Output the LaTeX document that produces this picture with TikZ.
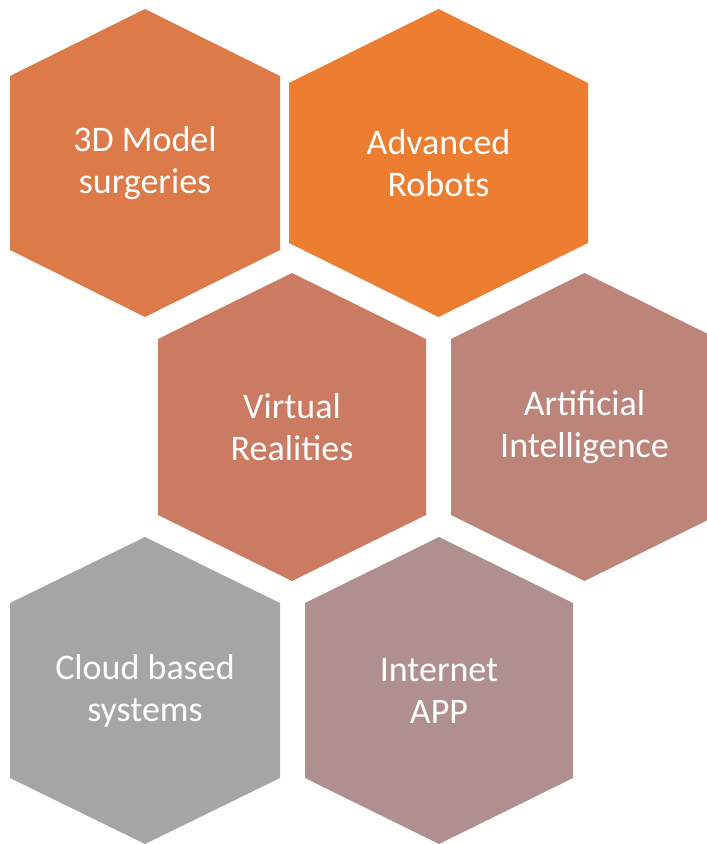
\documentclass[tikz,border=0pt]{standalone}
\usepackage{fontspec}
\setmainfont{Carlito}
\usepackage{color}
\definecolor{modelorange}{HTML}{DC7A4A}
\definecolor{robotorange}{HTML}{ED7D31}
\definecolor{virtualrose}{HTML}{CC7B63}
\definecolor{aibrown}{HTML}{BD857A}
\definecolor{cloudgray}{HTML}{A5A5A5}
\definecolor{appmauve}{HTML}{B0908E}
% name, cx, half width, top, side top, side bottom, bottom, colour, text
\newcommand{\hexcell}[9]{%
  \fill[#8] (#2,#4) -- ({#2+#3},#5) -- ({#2+#3},#6) -- (#2,#7)
    -- ({#2-#3},#6) -- ({#2-#3},#5) -- cycle;
  \node[hexlabel] (#1) at (#2,{(#4+#7)/2}) {#9};}

\begin{document}
\begin{tikzpicture}[x=1pt,y=-1pt,
  hexlabel/.style={text=white,align=center,inner sep=0pt,
    font=\fontsize{36}{42}\selectfont}]
  \useasboundingbox (0,0) rectangle (707,844);
  \hexcell{model}{145}{135}{9}{76}{250}{317}{modelorange}{3D Model\\surgeries}
  \hexcell{robots}{438.5}{149.5}{9}{83}{243}{317}{robotorange}{Advanced\\Robots}
  \hexcell{virtual}{292}{134}{273}{339}{515}{581}{virtualrose}{Virtual\\Realities}
  \hexcell{ai}{584.5}{133.5}{273}{339}{515}{581}{aibrown}{Artificial\\Intelligence}
  \hexcell{cloud}{145}{135}{537}{603}{778}{844}{cloudgray}{Cloud based\\systems}
  \hexcell{app}{439}{134}{537}{603}{778}{844}{appmauve}{Internet\\APP}
\end{tikzpicture}
\end{document}
